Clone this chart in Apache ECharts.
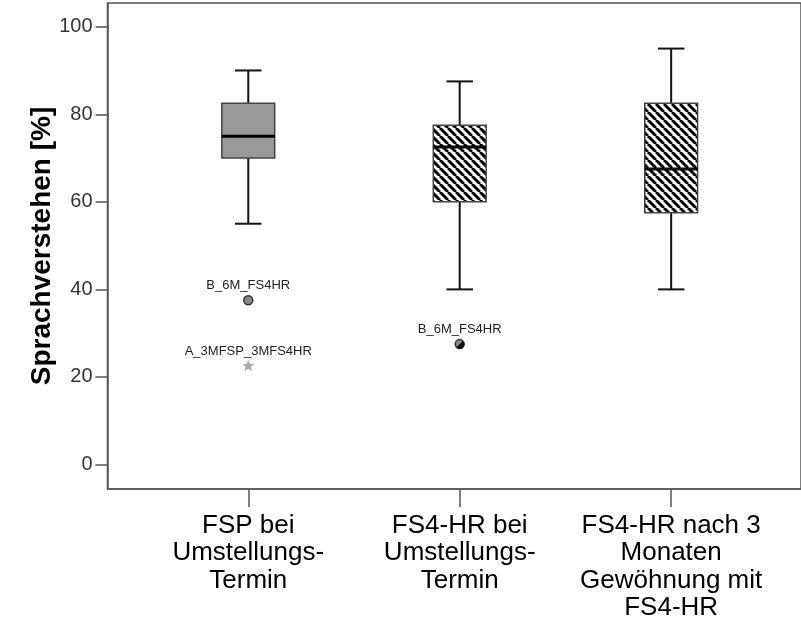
<!DOCTYPE html>
<html>
<head>
<meta charset="utf-8">
<script src="https://cdn.jsdelivr.net/npm/echarts@6/dist/echarts.min.js"></script>
<style>
  html, body { margin: 0; padding: 0; background: #fff; }
  #chart { width: 801px; height: 622px; }
</style>
</head>
<body>
<div id="chart"></div>
<script>
const categories = ['FSP bei\nUmstellungs-\nTermin', 'FS4-HR bei\nUmstellungs-\nTermin', 'FS4-HR nach 3\nMonaten\nGewöhnung mit\nFS4-HR']
const whiskerLow = [55, 40, 40]
const q1 = [70, 60, 57.5]
const median = [75, 72.5, 67.5]
const q3 = [82.5, 77.5, 82.5]
const whiskerHigh = [90, 87.5, 95]

const outlierCat = [0, 0, 1]
const outlierVal = [37.5, 22.5, 27.5]
const outlierLabel = ['B_6M_FS4HR', 'A_3MFSP_3MFS4HR', 'B_6M_FS4HR']
const outlierKind = ['circle', 'star', 'halfcircle']

const yTicks = [0, 20, 40, 60, 80, 100]

const FONT = '"Liberation Sans", Arial, sans-serif'

// diagonal hatch "\\\" like the SPSS fill
const tile = document.createElement('canvas')
tile.width = tile.height = 8
const tctx = tile.getContext('2d')
tctx.fillStyle = '#fff'
tctx.fillRect(0, 0, 8, 8)
tctx.strokeStyle = '#000'
tctx.lineWidth = 3
tctx.beginPath()
for (let k = -1; k <= 1; k++) {
    tctx.moveTo(k * 8, 0)
    tctx.lineTo(k * 8 + 8, 8)
}
tctx.stroke()
const hatch = { image: tile, repeat: 'repeat' }

const boxData = categories.map((c, i) => [i, whiskerLow[i], q1[i], median[i], q3[i], whiskerHigh[i]])
const outlierData = outlierCat.map((c, i) => [c, outlierVal[i]])

function renderBox(params, api) {
    const x = api.value(0)
    const lo = api.coord([x, api.value(1)])
    const bot = api.coord([x, api.value(2)])
    const med = api.coord([x, api.value(3)])
    const top = api.coord([x, api.value(4)])
    const hi = api.coord([x, api.value(5)])
    const cx = lo[0]
    const bw = api.size([1, 0])[0] * 0.125
    const cw = bw / 2
    const wStyle = { stroke: '#111', lineWidth: 2 }
    return {
        type: 'group',
        children: [
            { type: 'line', shape: { x1: cx, y1: hi[1], x2: cx, y2: top[1] }, style: wStyle },
            { type: 'line', shape: { x1: cx, y1: bot[1], x2: cx, y2: lo[1] }, style: wStyle },
            { type: 'line', shape: { x1: cx - cw, y1: hi[1], x2: cx + cw, y2: hi[1] }, style: wStyle },
            { type: 'line', shape: { x1: cx - cw, y1: lo[1], x2: cx + cw, y2: lo[1] }, style: wStyle },
            {
                type: 'rect',
                shape: { x: cx - bw, y: top[1], width: bw * 2, height: bot[1] - top[1] },
                style: { fill: params.dataIndex === 0 ? '#999' : hatch, stroke: '#444', lineWidth: 1.5 }
            },
            { type: 'line', shape: { x1: cx - bw, y1: med[1], x2: cx + bw, y2: med[1] }, style: { stroke: '#000', lineWidth: 3 } }
        ]
    }
}

function starPoints(cx, cy, r1, r2) {
    const pts = []
    for (let i = 0; i < 10; i++) {
        const r = i % 2 ? r2 : r1
        const a = -Math.PI / 2 + i * Math.PI / 5
        pts.push([cx + r * Math.cos(a), cy + r * Math.sin(a)])
    }
    return pts
}

function renderOutlier(params, api) {
    const p = api.coord([api.value(0), api.value(1)])
    const i = params.dataIndex
    const kind = outlierKind[i]
    const children = []
    if (kind === 'star') {
        children.push({ type: 'polygon', shape: { points: starPoints(p[0], p[1], 5.5, 2.4) }, style: { fill: '#aaa', stroke: '#999', lineWidth: 0.5 } })
    } else {
        children.push({ type: 'circle', shape: { cx: p[0], cy: p[1], r: 4.5 }, style: { fill: '#888', stroke: '#333', lineWidth: 1.5 } })
        if (kind === 'halfcircle') {
            children.push({ type: 'sector', shape: { cx: p[0], cy: p[1], r0: 0, r: 4.5, startAngle: -Math.PI / 4, endAngle: Math.PI * 3 / 4 }, style: { fill: '#111' } })
        }
    }
    children.push({
        type: 'text',
        style: {
            x: p[0], y: p[1] - 14.5, text: outlierLabel[i],
            fill: '#222', font: '13px ' + FONT, align: 'center', verticalAlign: 'middle'
        }
    })
    return { type: 'group', children: children }
}

const myChart = echarts.init(document.getElementById('chart'), null, { renderer: 'canvas' })

const option = {
    animation: false,
    backgroundColor: '#fff',
    grid: {
        left: 107.5, top: 3, right: -5, bottom: 132.5,
        show: true, borderColor: '#555', borderWidth: 1.5, backgroundColor: 'transparent'
    },
    xAxis: {
        type: 'value',
        min: -0.6657, max: 2.614,
        splitLine: { show: false },
        axisLine: { show: true, onZero: false, lineStyle: { color: '#555', width: 1.5 } },
        axisTick: { show: true, inside: false, length: 18, customValues: [0, 1, 2], lineStyle: { color: '#555', width: 1.5 } },
        axisLabel: {
            customValues: [0, 1, 2],
            formatter: (v) => categories[Math.round(v)],
            margin: 23,
            fontFamily: FONT, fontSize: 26, lineHeight: 27.5, color: '#000', align: 'center'
        }
    },
    yAxis: {
        type: 'value',
        min: -5.59, max: 105.41,
        name: 'Sprachverstehen [%]',
        nameLocation: 'middle',
        nameGap: 51,
        nameMoveOverlap: false,
        nameTextStyle: { fontFamily: FONT, fontSize: 28, fontWeight: 'bold', color: '#000' },
        splitLine: { show: false },
        axisLine: { show: true, onZero: false, lineStyle: { color: '#555', width: 1.5 } },
        axisTick: { show: true, inside: false, length: 12, customValues: yTicks, lineStyle: { color: '#555', width: 1.5 } },
        axisLabel: { customValues: yTicks, margin: 15, fontFamily: FONT, fontSize: 20, color: '#333' }
    },
    series: [
        {
            type: 'custom',
            renderItem: renderBox,
            encode: { x: 0, y: [1, 2, 3, 4, 5] },
            data: boxData,
            silent: true
        },
        {
            type: 'custom',
            renderItem: renderOutlier,
            encode: { x: 0, y: 1 },
            data: outlierData,
            silent: true
        }
    ]
}

myChart.setOption(option)
</script>
</body>
</html>
